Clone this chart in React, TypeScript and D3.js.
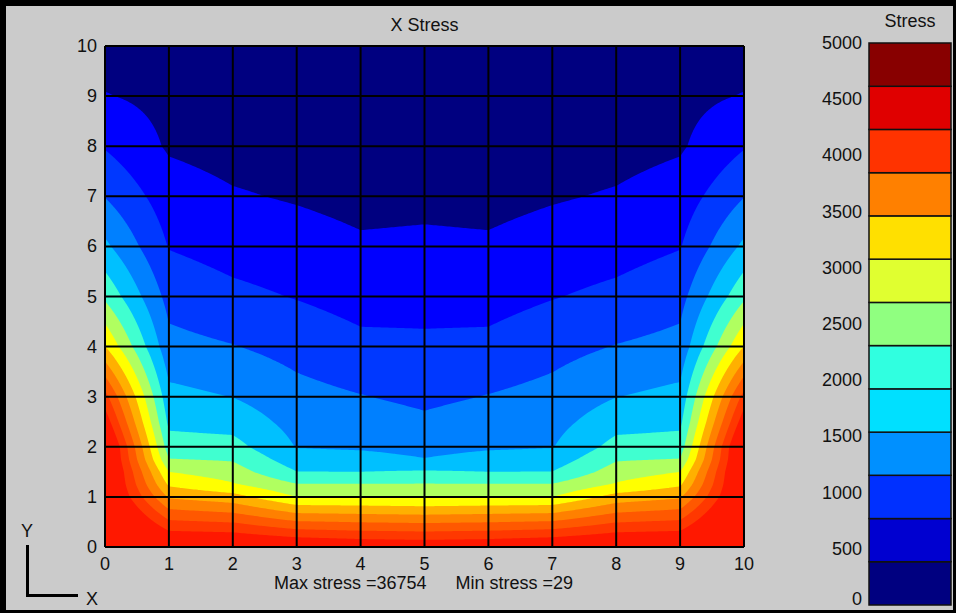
import React, { useMemo } from 'react';
import * as d3 from 'd3';

// mesh node positions (x across, y up)
const X_NODES = [0, 1, 2, 3, 4, 5, 6, 7, 8, 9, 10];
const Y_NODES = [0, 1, 1.25, 1.5, 1.75, 2, 2.5, 3, 4, 5, 6, 7, 8, 9, 10];

// nodal x stress, one row per Y_NODES entry
const STRESS_ROWS = [
    [5960, 5190, 5190, 5080, 4980, 4940, 4980, 5080, 5190, 5190, 5960],
    [5380, 3410, 3230, 2690, 2680, 2650, 2680, 2690, 3230, 3410, 5380],
    [5380, 3010, 2730, 2330, 2330, 2330, 2330, 2330, 2730, 3010, 5380],
    [5420, 2690, 2490, 1930, 1925, 1970, 1925, 1930, 2490, 2690, 5420],
    [5380, 2320, 2270, 1700, 1660, 1550, 1660, 1700, 2270, 2320, 5380],
    [5380, 2090, 2060, 1520, 1490, 1430, 1490, 1520, 2060, 2090, 5380],
    [4870, 1830, 1770, 1400, 1330, 1220, 1330, 1400, 1770, 1830, 4870],
    [4380, 1650, 1530, 1280, 1170, 1070, 1170, 1280, 1530, 1650, 4380],
    [3080, 1270, 1170, 1020, 860, 840, 860, 1020, 1170, 1270, 3080],
    [2230, 1020, 860, 750, 630, 640, 630, 750, 860, 1020, 2230],
    [1620, 750, 620, 550, 440, 460, 440, 550, 620, 750, 1620],
    [1140, 560, 420, 350, 270, 290, 270, 350, 420, 560, 1140],
    [740, 340, 250, 210, 160, 170, 160, 210, 250, 340, 740],
    [405, 277, 150, 130, 110, 120, 110, 130, 150, 277, 405],
    [190, 150, 100, 60, 40, 29, 40, 60, 100, 150, 190],
];

// contour levels (13 bands over 0..5000)
const LEVELS = [0, 385, 769, 1154, 1538, 1923, 2308, 2692, 3077, 3462, 3846, 4231, 4615];
const PLOT_COLORS = [
    '#000080', '#0000ff', '#0038ff', '#0080ff', '#00c0ff', '#40ffd0', '#b0ff60',
    '#ffff00', '#ffb000', '#ff8000', '#ff5800', '#ff3800', '#ff1800',
];
const LEGEND_COLORS = [
    '#000080', '#0000d0', '#0030ff', '#0090ff', '#00e0ff', '#30ffe0', '#90ff80',
    '#e0ff30', '#ffe000', '#ff8000', '#ff3300', '#e00000', '#880000',
];
const LEGEND_TICKS = [0, 500, 1000, 1500, 2000, 2500, 3000, 3500, 4000, 4500, 5000];
const AXIS_TICKS = [0, 1, 2, 3, 4, 5, 6, 7, 8, 9, 10];

const MAX_STRESS = 36754;
const MIN_STRESS = 29;

const W = 956;
const H = 613;
const PLOT = { left: 105, right: 744, top: 46, bottom: 547 };
const LEG = { left: 869, right: 951, top: 43, bottom: 605 };
const FONT = '"Liberation Sans", Arial, sans-serif';

function stressAt(x: number, y: number) {
    const i = Math.max(0, Math.min(d3.bisectRight(X_NODES, x) - 1, X_NODES.length - 2));
    const j = Math.max(0, Math.min(d3.bisectRight(Y_NODES, y) - 1, Y_NODES.length - 2));
    const tx = (x - X_NODES[i]) / (X_NODES[i + 1] - X_NODES[i]);
    const ty = (y - Y_NODES[j]) / (Y_NODES[j + 1] - Y_NODES[j]);
    const a = STRESS_ROWS[j][i], b = STRESS_ROWS[j][i + 1];
    const c = STRESS_ROWS[j + 1][i], d = STRESS_ROWS[j + 1][i + 1];
    return (1 - tx) * (1 - ty) * a + tx * (1 - ty) * b + (1 - tx) * ty * c + tx * ty * d;
}

export default function App() {
    const x = d3.scaleLinear().domain([0, 10]).range([PLOT.left, PLOT.right]);
    const y = d3.scaleLinear().domain([0, 10]).range([PLOT.bottom, PLOT.top]);
    const ly = d3.scaleLinear().domain([0, 5000]).range([LEG.bottom, LEG.top]);

    // element-wise shading sampled on a fine raster, then banded with d3.contours
    const bands = useMemo(() => {
        const nx = 320, ny = 250;
        const values = new Float64Array(nx * ny);
        for (let j = 0; j < ny; j++) {
            const yy = 10 - ((j + 0.5) / ny) * 10;
            for (let i = 0; i < nx; i++) {
                values[j * nx + i] = stressAt(((i + 0.5) / nx) * 10, yy);
            }
        }
        const contours = d3.contours().size([nx, ny]).thresholds(LEVELS)(Array.from(values));
        const proj = d3.geoTransform({
            point(px: number, py: number) {
                this.stream.point(
                    PLOT.left + (px / nx) * (PLOT.right - PLOT.left),
                    PLOT.top + (py / ny) * (PLOT.bottom - PLOT.top),
                );
            },
        });
        const path = d3.geoPath(proj);
        return contours.map((c, k) => ({ d: path(c as any) || '', fill: PLOT_COLORS[k] }));
    }, []);

    const textStyle = { fontFamily: FONT, fontSize: 18, fill: '#111' };

    return (
        <svg
            width={W}
            height={H}
            style={{ position: 'absolute', left: 0, top: 0, display: 'block' }}
        >
            <rect x={0} y={0} width={W} height={H} fill="#cbcbcb" />

            {/* title */}
            <text x={x(5)} y={25} textAnchor="middle" dominantBaseline="central" {...textStyle}>
                X Stress
            </text>

            {/* contour bands */}
            <defs>
                <clipPath id="plot-clip">
                    <rect x={PLOT.left} y={PLOT.top} width={PLOT.right - PLOT.left} height={PLOT.bottom - PLOT.top} />
                </clipPath>
            </defs>
            <g clipPath="url(#plot-clip)">
                {bands.map((b, k) => (
                    <path key={k} d={b.d} fill={b.fill} />
                ))}
            </g>

            {/* grid */}
            <g stroke="#000" strokeWidth={2}>
                {AXIS_TICKS.map(t => (
                    <line key={'v' + t} x1={x(t)} x2={x(t)} y1={PLOT.top} y2={PLOT.bottom} />
                ))}
                {AXIS_TICKS.map(t => (
                    <line key={'h' + t} x1={PLOT.left} x2={PLOT.right} y1={y(t)} y2={y(t)} />
                ))}
            </g>

            {/* tick labels */}
            {AXIS_TICKS.map(t => (
                <text key={'yl' + t} x={PLOT.left - 8} y={y(t)} textAnchor="end" dominantBaseline="central" {...textStyle}>
                    {t}
                </text>
            ))}
            {AXIS_TICKS.map(t => (
                <text key={'xl' + t} x={x(t)} y={564} textAnchor="middle" dominantBaseline="central" {...textStyle}>
                    {t}
                </text>
            ))}

            <text x={x(5) + 2} y={583} textAnchor="end" dominantBaseline="central" {...textStyle}>
                {`Max stress =${MAX_STRESS}`}
            </text>
            <text x={x(5) + 31} y={583} textAnchor="start" dominantBaseline="central" {...textStyle}>
                {`Min stress =${MIN_STRESS}`}
            </text>

            {/* axis triad */}
            <g stroke="#000" strokeWidth={3} fill="none">
                <path d="M27.5,545 V595.5 H78" />
            </g>
            <text x={27} y={531} textAnchor="middle" dominantBaseline="central" {...textStyle}>Y</text>
            <text x={92} y={599} textAnchor="middle" dominantBaseline="central" {...textStyle}>X</text>

            {/* legend */}
            <text x={(LEG.left + LEG.right) / 2} y={21} textAnchor="middle" dominantBaseline="central" {...textStyle}>
                Stress
            </text>
            {LEVELS.map((lv, k) => {
                const top = k + 1 < LEVELS.length ? LEVELS[k + 1] : 5000;
                return (
                    <rect
                        key={'lg' + k}
                        x={LEG.left}
                        y={ly(top)}
                        width={LEG.right - LEG.left}
                        height={ly(lv) - ly(top)}
                        fill={LEGEND_COLORS[k]}
                        stroke="#111"
                        strokeWidth={1.5}
                    />
                );
            })}
            {LEGEND_TICKS.map(t => (
                <text
                    key={'lt' + t}
                    x={LEG.left - 7}
                    y={Math.min(ly(t), 599)}
                    textAnchor="end"
                    dominantBaseline="central"
                    {...textStyle}
                >
                    {t}
                </text>
            ))}

            {/* outer frame */}
            <rect x={0} y={0} width={W} height={6} fill="#000" />
            <rect x={0} y={0} width={6} height={H} fill="#000" />
            <rect x={0} y={H - 3} width={W} height={3} fill="#000" />
            <rect x={W - 3} y={0} width={3} height={H} fill="#000" />
        </svg>
    );
}
